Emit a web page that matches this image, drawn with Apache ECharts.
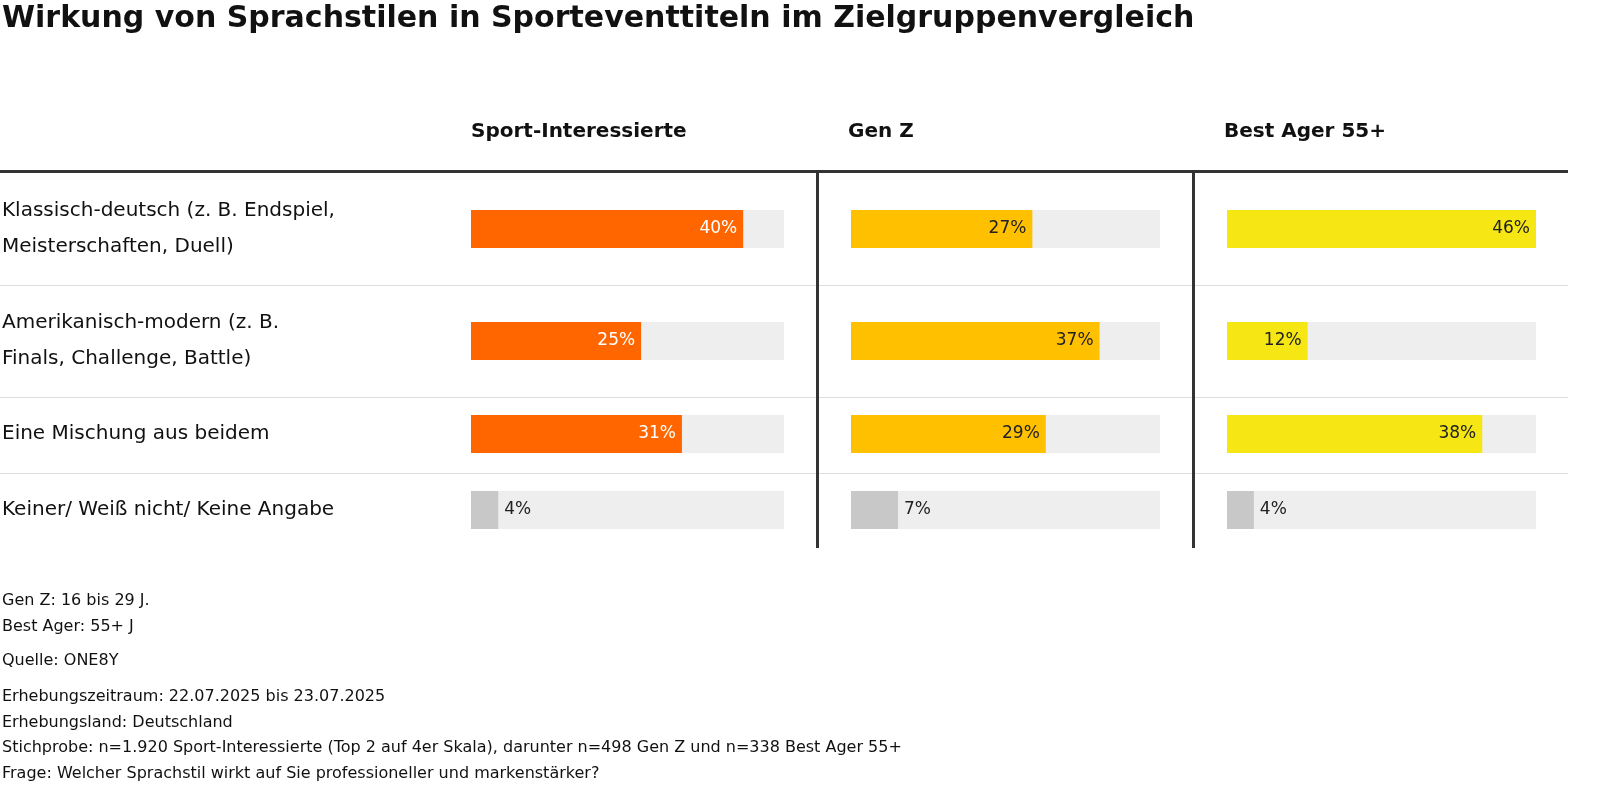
<!DOCTYPE html>
<html><head><meta charset="utf-8">
<script src="https://cdn.jsdelivr.net/npm/echarts@6/dist/echarts.min.js"></script>
<style>body{margin:0}#main{width:1600px;height:806px}</style>
</head><body><div id="main"></div>
<script>
var rowLabels = ['Klassisch-deutsch (z. B. Endspiel,\nMeisterschaften, Duell)', 'Amerikanisch-modern (z. B.\nFinals, Challenge, Battle)', 'Eine Mischung aus beidem', 'Keiner/ Weiß nicht/ Keine Angabe'];
var groups = ['Sport-Interessierte', 'Gen Z', 'Best Ager 55+'];
var sportVals = [40, 25, 31, 4];
var genzVals = [27, 37, 29, 7];
var bestVals = [46, 12, 38, 4];
var notes = ['Gen Z: 16 bis 29 J.', 'Best Ager: 55+ J', 'Quelle: ONE8Y', 'Erhebungszeitraum: 22.07.2025 bis 23.07.2025', 'Erhebungsland: Deutschland', 'Stichprobe: n=1.920 Sport-Interessierte (Top 2 auf 4er Skala), darunter n=498 Gen Z und n=338 Best Ager 55+', 'Frage: Welcher Sprachstil wirkt auf Sie professioneller und markenstärker?'];

var FONT = '"DejaVu Sans", sans-serif';
var allVals = [sportVals, genzVals, bestVals];
var colors = ['#ff6600', '#ffc000', '#f5e614'];
var panelLeft = [471, 851, 1227];
var panelWidth = [313, 309, 309];
var rowCenter = [229, 341, 434, 510];
var noteY = [601, 627, 661, 697, 723, 748, 774];

var grids = [], xAxes = [], yAxes = [], series = [], graphics = [];
var idx = 0;
for (var p = 0; p < 3; p++) {
  for (var r = 0; r < 4; r++) {
    grids.push({left: panelLeft[p], width: panelWidth[p], top: rowCenter[r] - 19, height: 38});
    xAxes.push({gridIndex: idx, type: 'value', min: 0, max: 46, show: false});
    yAxes.push({gridIndex: idx, type: 'category', data: [rowLabels[r]], show: false});
    var last = r === 3;
    series.push({
      type: 'bar', xAxisIndex: idx, yAxisIndex: idx, barWidth: '100%',
      data: [allVals[p][r]], silent: true,
      itemStyle: {color: last ? '#c8c8c8' : colors[p]},
      showBackground: true, backgroundStyle: {color: '#eeeeee'},
      label: {show: true, position: last ? 'right' : 'insideRight', distance: 6,
        formatter: '{c}%', fontFamily: FONT, fontSize: 17,
        color: (p === 0 && !last) ? '#fff' : '#222'}
    });
    idx++;
  }
}

graphics.push({type: 'text', left: 2, top: 4, style: {text: 'Wirkung von Sprachstilen in Sporteventtiteln im Zielgruppenvergleich', font: 'bold 30px ' + FONT, fill: '#111'}});
groups.forEach(function (g, i) {
  graphics.push({type: 'text', left: panelLeft[i] - (i ? 3 : 0), top: 122, style: {text: g, font: 'bold 20px ' + FONT, fill: '#111'}});
});
graphics.push({type: 'rect', shape: {x: 0, y: 170, width: 1568, height: 3}, style: {fill: '#333'}});
[285, 397, 473].forEach(function (y) {
  graphics.push({type: 'rect', shape: {x: 0, y: y, width: 1568, height: 1}, style: {fill: '#ddd'}});
});
[816, 1192].forEach(function (x) {
  graphics.push({type: 'rect', shape: {x: x, y: 172, width: 3, height: 376}, style: {fill: '#333'}});
});
rowLabels.forEach(function (t, i) {
  graphics.push({type: 'text', x: 2, y: rowCenter[i], style: {text: t, font: '20px ' + FONT, fill: '#111', verticalAlign: 'middle', lineHeight: 36}});
});
notes.forEach(function (t, i) {
  graphics.push({type: 'text', x: 2, y: noteY[i], style: {text: t, font: '16px ' + FONT, fill: '#111', verticalAlign: 'middle'}});
});

var chart = echarts.init(document.getElementById('main'));
chart.setOption({
  animation: false, backgroundColor: '#fff',
  grid: grids, xAxis: xAxes, yAxis: yAxes, series: series, graphic: graphics
});
</script></body></html>
